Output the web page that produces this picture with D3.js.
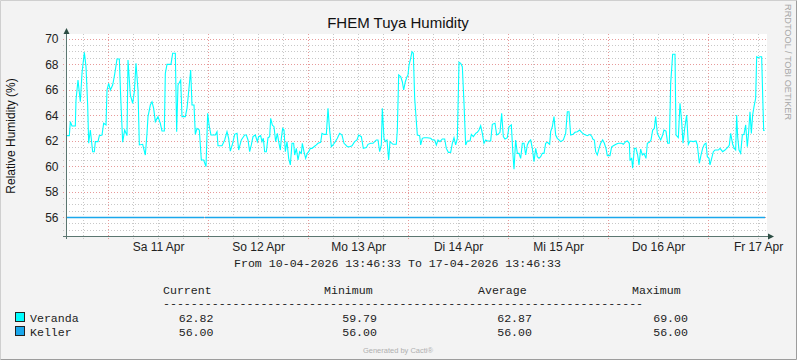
<!DOCTYPE html>
<html>
<head>
<meta charset="utf-8">
<script src="https://cdn.jsdelivr.net/npm/d3@7/dist/d3.min.js"></script>
<style>
  html, body { margin: 0; padding: 0; background: #f3f3f3; }
  svg { display: block; }
</style>
</head>
<body>
<svg id="chart" width="797" height="360"></svg>
<script>
// ---------------- DATA ----------------
const title = "FHEM Tuya Humidity";
const yLabel = "Relative Humidity (%)";
const startUTC = Date.UTC(2026, 3, 10, 13, 46, 33);   // 10-04-2026 13:46:33
const endUTC   = Date.UTC(2026, 3, 17, 13, 46, 33);   // 17-04-2026 13:46:33
const yTicks = [56, 58, 60, 62, 64, 66, 68, 70];
const dayLabels = ["Sa 11 Apr", "So 12 Apr", "Mo 13 Apr", "Di 14 Apr", "Mi 15 Apr", "Do 16 Apr", "Fr 17 Apr"];
const dayLabelDates = ["2026-04-11", "2026-04-12", "2026-04-13", "2026-04-14", "2026-04-15", "2026-04-16", "2026-04-17"];

// Veranda: hours after start, relative humidity (%)
const verandaHours = [
  0.1, 0.92, 1.16, 1.56, 2.36, 2.52, 3.0, 3.56, 3.96, 4.52, 4.92, 5.32, 5.56, 5.96, 6.52, 6.92, 7.16, 7.8, 8.12, 8.76,
  9.16, 9.72, 9.96, 10.36, 10.76, 11.32, 11.8, 12.36, 12.92, 13.24, 13.72, 14.2, 14.76, 15.0, 15.56, 16.12, 16.52, 16.92, 17.4, 17.72,
  18.52, 19.16, 19.56, 19.8, 20.36, 20.76, 21.16, 21.56, 22.2, 22.76, 23.16, 23.72, 23.96, 24.36, 25.32, 25.72, 26.36, 26.68, 27.0, 27.64,
  27.96, 28.76, 29.16, 29.56, 30.04, 30.36, 30.84, 31.16, 31.56, 32.12, 32.6, 33.16, 33.72, 34.12, 34.52, 34.92, 35.96, 36.36, 36.6, 37.56,
  38.2, 38.76, 39.16, 39.56, 40.12, 40.6, 41.16, 41.56, 42.2, 43.0, 43.4, 43.8, 44.2, 44.6, 45.0, 45.56, 46.04, 46.36, 46.84, 47.16,
  47.48, 47.8, 48.2, 48.6, 49.0, 49.24, 49.64, 50.04, 50.44, 50.84, 51.16, 51.56, 51.8, 52.12, 52.44, 52.76, 53.16, 53.56, 53.96, 54.36,
  54.76, 55.0, 55.4, 55.8, 56.2, 56.6, 56.84, 57.24, 57.64, 58.04, 58.36, 58.76, 59.16, 59.64, 60.2, 60.6, 61.24, 61.56, 62.04, 62.6,
  63.0, 63.32, 63.8, 64.2, 64.76, 65.24, 65.8, 66.36, 66.84, 67.24, 67.64, 68.2, 68.76, 69.4, 69.96, 70.36, 71.0, 71.48, 72.2, 72.6,
  73.24, 73.8, 74.2, 74.6, 75.0, 75.4, 75.8, 76.04, 76.44, 76.76, 77.16, 77.56, 77.88, 78.6, 79.4, 79.64, 79.96, 80.44, 80.84, 81.16,
  81.56, 81.96, 82.2, 82.44, 82.84, 83.16, 83.48, 83.8, 84.44, 85.0, 85.24, 85.64, 86.04, 86.84, 87.64, 88.04, 88.6, 89.0, 89.4, 89.88,
  90.44, 91.0, 91.4, 91.88, 92.44, 92.84, 93.24, 93.64, 94.04, 94.44, 94.84, 95.24, 95.64, 96.04, 96.44, 97.08, 97.4, 97.88, 98.44, 98.84,
  99.24, 99.64, 100.04, 100.44, 100.84, 101.24, 102.04, 102.44, 103.08, 103.48, 103.8, 104.28, 104.68, 105.08, 105.48, 106.04, 106.44, 107.0, 107.4, 107.64,
  108.04, 108.44, 108.84, 109.24, 109.64, 110.04, 110.44, 110.84, 111.24, 111.64, 112.04, 112.44, 112.84, 113.24, 113.64, 114.04, 114.44, 114.84, 115.24, 115.64,
  116.2, 116.44, 116.84, 117.24, 117.64, 118.04, 118.44, 118.84, 119.48, 120.04, 120.44, 120.84, 121.24, 121.8, 122.28, 122.84, 123.4, 123.88, 124.44, 125.24,
  125.88, 126.36, 126.52, 126.92, 127.24, 127.64, 128.04, 128.44, 128.92, 129.32, 129.72, 130.04, 130.68, 131.08, 131.48, 132.12, 132.68, 133.48, 133.88, 134.44,
  134.84, 135.32, 135.48, 135.88, 136.12, 136.52, 136.92, 137.32, 137.64, 138.04, 138.44, 138.84, 139.32, 139.64, 140.12, 140.52, 140.92, 141.32, 141.64, 142.04,
  142.44, 142.84, 143.32, 143.64, 144.12, 144.52, 144.92, 145.24, 145.72, 146.28, 146.52, 147.08, 147.48, 147.88, 148.2, 148.6, 149.08, 149.48, 149.88, 150.68,
  151.32, 151.64, 152.12, 152.52, 152.92, 153.32, 153.72, 154.04, 154.44, 154.68, 155.08, 155.48, 155.88, 156.68, 157.08, 157.72, 158.28, 158.68, 159.08, 159.32,
  159.64, 160.12, 160.52, 160.84, 161.08, 161.32, 161.64, 162.04, 162.44, 162.84, 163.24, 163.64, 163.96, 164.28, 164.6, 164.92, 165.24, 165.64, 165.88, 166.28,
  166.68, 167.08, 167.32, 167.56, 167.8
];
const verandaValues = [
  62.42, 62.42, 63.52, 63.18, 63.18, 65.22, 66.78, 65.08, 67.31, 68.95, 67.83, 64.82, 61.82, 62.86, 61.16, 61.16, 61.95, 61.95, 62.42, 62.47,
  63.39, 63.26, 66.0, 66.52, 66.0, 66.39, 67.23, 68.43, 68.43, 65.48, 61.9, 62.86, 62.42, 68.35, 65.61, 64.95, 65.87, 68.09, 66.0, 61.69,
  61.74, 60.9, 62.6, 63.91, 64.82, 65.08, 64.56, 63.52, 63.91, 63.39, 62.78, 62.78, 67.31, 68.01, 68.01, 68.88, 68.88, 62.73, 66.39, 66.78,
  63.91, 63.91, 64.56, 65.87, 67.57, 64.82, 64.82, 62.52, 62.99, 62.86, 60.51, 60.51, 59.99, 64.17, 63.12, 62.47, 62.47, 62.73, 61.63, 61.63,
  62.08, 62.73, 62.21, 61.21, 61.82, 62.52, 62.6, 61.29, 62.08, 62.47, 62.47, 62.08, 61.16, 61.69, 62.34, 62.47, 61.95, 62.34, 62.42, 61.95,
  62.21, 61.16, 61.16, 62.26, 62.34, 63.78, 63.25, 63.12, 61.95, 62.6, 61.95, 61.29, 62.21, 62.99, 62.86, 61.16, 61.95, 60.64, 60.12, 61.82,
  61.82, 60.9, 61.42, 60.51, 61.16, 61.03, 61.82, 61.16, 60.64, 61.03, 61.16, 61.42, 61.42, 61.55, 61.69, 61.82, 61.9, 62.6, 62.52, 62.52,
  64.56, 63.12, 61.55, 61.69, 61.95, 62.21, 62.6, 62.47, 61.82, 61.69, 61.55, 61.55, 61.63, 61.95, 62.08, 62.47, 62.34, 61.42, 61.48, 61.74,
  61.82, 61.82, 61.95, 62.08, 62.08, 61.16, 61.69, 64.56, 62.21, 61.95, 62.08, 60.51, 61.95, 61.74, 61.74, 62.86, 67.18, 67.05, 66.65, 66.0,
  66.65, 67.05, 67.18, 67.96, 68.48, 69.0, 68.88, 65.35, 62.47, 62.42, 61.69, 62.21, 62.26, 62.26, 62.21, 62.08, 62.08, 61.69, 62.08, 61.95,
  62.16, 62.16, 61.42, 61.11, 61.11, 61.82, 62.26, 61.69, 62.21, 68.17, 68.09, 67.83, 64.95, 61.69, 62.0, 62.0, 62.52, 62.34, 62.6, 62.68,
  62.86, 63.2, 62.6, 61.82, 62.08, 62.0, 62.0, 63.31, 63.39, 62.47, 62.52, 62.68, 64.17, 62.34, 62.16, 62.26, 63.12, 63.26, 60.9, 59.79,
  62.08, 61.03, 61.03, 60.64, 61.82, 61.82, 60.9, 61.69, 61.95, 62.08, 61.42, 60.38, 61.42, 60.77, 60.64, 60.77, 61.03, 61.03, 61.82, 61.9,
  61.74, 62.73, 63.12, 63.91, 62.47, 62.21, 62.08, 61.95, 62.08, 62.6, 64.3, 64.3, 62.47, 62.52, 62.68, 62.73, 62.86, 62.68, 62.52, 62.42,
  62.52, 62.34, 62.16, 62.08, 61.16, 60.9, 61.42, 61.82, 62.08, 61.82, 61.42, 60.85, 60.85, 61.55, 61.63, 61.74, 61.82, 61.82, 61.74, 61.95,
  62.0, 61.82, 60.51, 60.64, 59.86, 61.42, 61.42, 60.9, 60.12, 61.37, 60.9, 61.03, 60.64, 61.82, 61.9, 62.08, 62.86, 62.99, 63.91, 62.6,
  62.34, 62.08, 62.47, 62.86, 62.78, 61.82, 61.82, 66.52, 68.8, 68.8, 62.47, 62.26, 64.95, 63.52, 61.82, 62.99, 64.04, 61.74, 62.0, 61.95,
  62.0, 61.69, 60.25, 60.9, 61.42, 61.74, 61.82, 60.77, 60.64, 60.12, 60.64, 61.16, 61.29, 61.29, 61.42, 61.16, 61.29, 61.42, 61.55, 61.69,
  62.6, 61.74, 61.42, 61.29, 64.04, 62.34, 61.29, 61.03, 62.47, 62.52, 63.26, 61.55, 62.73, 64.3, 62.6, 64.04, 64.69, 65.35, 68.61, 68.54,
  68.61, 68.61, 65.61, 62.82, 62.82
];

// Keller: constant, with one short gap
const kellerHours  = [0.1, 33.25, 33.3, 33.45, 167.9];
const kellerValues = [56, 56, null, 56, 56];

// Legend
const seriesNames  = ["Veranda", "Keller"];
const seriesColors = ["#00FFFF", "#1AA7EC"];
const statHeaders  = ["Current", "Minimum", "Average", "Maximum"];
const statValues   = [["62.82", "59.79", "62.87", "69.00"], ["56.00", "56.00", "56.00", "56.00"]];
const fromToText = "From 10-04-2026 13:46:33 To 17-04-2026 13:46:33";

// ---------------- DRAW ----------------
(function draw() {
const svg = d3.select("#chart");
const W = 797, H = 360;
const HOUR = 3600e3;

svg.append("rect").attr("x", 0).attr("y", 0).attr("width", W).attr("height", H).attr("fill", "#f3f3f3");
svg.append("path").attr("d", `M0.5,${H-0.5} V0.5 H${W-0.5}`).attr("fill", "none").attr("stroke", "#cfcfcf");
svg.append("path").attr("d", `M0.5,${H-0.5} H${W-0.5} V0.5`).attr("fill", "none").attr("stroke", "#9c9c9c");

const x = d3.scaleUtc().domain([new Date(startUTC), new Date(endUTC)]).range([65.5, 765.5]);
const y = d3.scaleLinear().domain([56, 70]).range([217.5, 39]);

const pTop = 34, pBottom = 236, pLeft = 66, pRight = 767;
const snap = v => Math.floor(v) + 0.5;

svg.append("rect").attr("x", pLeft).attr("y", pTop).attr("width", pRight - pLeft).attr("height", pBottom - pTop).attr("fill", "#ffffff");

const grid = svg.append("g").attr("shape-rendering", "crispEdges");
const yMinor = d3.range(55, 70.01, 0.5).filter(v => !yTicks.includes(v));
grid.selectAll(".hmin").data(yMinor).enter().append("line")
  .attr("x1", pLeft - 3).attr("x2", pRight)
  .attr("y1", d => snap(y(d))).attr("y2", d => snap(y(d)))
  .attr("stroke", "#c8c8c8").attr("stroke-dasharray", "1,2");
const sixHours = d3.utcHour.every(6).range(new Date(startUTC), new Date(endUTC)).filter(d => d.getUTCHours() !== 0);
grid.selectAll(".vmin").data(sixHours).enter().append("line")
  .attr("x1", d => snap(x(d))).attr("x2", d => snap(x(d)))
  .attr("y1", pTop).attr("y2", pBottom + 3)
  .attr("stroke", "#c8c8c8").attr("stroke-dasharray", "1,2");
grid.selectAll(".hmaj").data(yTicks).enter().append("line")
  .attr("x1", pLeft - 3).attr("x2", pRight)
  .attr("y1", d => snap(y(d))).attr("y2", d => snap(y(d)))
  .attr("stroke", "#e79a9a").attr("stroke-dasharray", "1,2");
const days = d3.utcDay.every(1).range(new Date(startUTC), new Date(endUTC));
grid.selectAll(".vmaj").data(days).enter().append("line")
  .attr("x1", d => snap(x(d))).attr("x2", d => snap(x(d)))
  .attr("y1", pTop).attr("y2", pBottom + 3)
  .attr("stroke", "#e79a9a").attr("stroke-dasharray", "1,2");

const toDate = h => new Date(startUTC + h * HOUR);
const lineGen = d3.line()
  .defined(d => d.v !== null)
  .x(d => x(d.t))
  .y(d => y(d.v));

const keller = kellerHours.map((h, i) => ({ t: toDate(h), v: kellerValues[i] }));
svg.append("path").datum(keller).attr("d", lineGen)
  .attr("fill", "none").attr("stroke", seriesColors[1]).attr("stroke-width", 1.3);

const veranda = verandaHours.map((h, i) => ({ t: toDate(h), v: verandaValues[i] }));
svg.append("path").datum(veranda).attr("d", lineGen)
  .attr("fill", "none").attr("stroke", seriesColors[0]).attr("stroke-width", 1.1)
  .attr("stroke-linejoin", "miter");

const axisCol = "#5b7670";
svg.append("line").attr("x1", pLeft + 0.5).attr("x2", pLeft + 0.5).attr("y1", 32).attr("y2", pBottom + 3)
  .attr("stroke", axisCol);
svg.append("line").attr("x1", pLeft - 3).attr("x2", pRight + 3).attr("y1", pBottom + 0.5).attr("y2", pBottom + 0.5)
  .attr("stroke", axisCol);
svg.append("path").attr("d", `M${pLeft + 0.5},28 L${pLeft + 3.5},34 L${pLeft - 2.5},34 Z`).attr("fill", "#2c4d43");
svg.append("path").attr("d", `M${pRight + 7},${pBottom + 0.5} L${pRight + 1},${pBottom - 2.5} L${pRight + 1},${pBottom + 3.5} Z`).attr("fill", "#2c4d43");

const yAxis = d3.axisLeft(y).tickValues(yTicks).tickSize(0).tickPadding(8).tickFormat(d3.format("d"));
const gy = svg.append("g").attr("transform", `translate(${pLeft + 0.5},0)`).call(yAxis);
gy.select(".domain").remove();
gy.selectAll("text").attr("font-family", "Liberation Sans, Arial, sans-serif").attr("font-size", 12).attr("fill", "#222");

const labelDates = dayLabelDates.map(s => new Date(s + "T12:00:00Z"));
const xAxis = d3.axisBottom(x).tickValues(labelDates).tickSize(0).tickPadding(6)
  .tickFormat((d, i) => dayLabels[i]);
const gx = svg.append("g").attr("transform", `translate(0,${pBottom})`).call(xAxis);
gx.select(".domain").remove();
gx.selectAll("text").attr("font-family", "Liberation Sans, Arial, sans-serif").attr("font-size", 12).attr("fill", "#222");

svg.append("text").attr("x", 398).attr("y", 28).attr("text-anchor", "middle")
  .attr("font-family", "Liberation Sans, Arial, sans-serif").attr("font-size", 15).attr("fill", "#111")
  .text(title);
svg.append("text").attr("transform", "translate(15,136) rotate(-90)").attr("text-anchor", "middle")
  .attr("font-family", "Liberation Sans, Arial, sans-serif").attr("font-size", 12).attr("fill", "#111")
  .text(yLabel);
svg.append("text").attr("transform", "translate(785,4) rotate(90)").attr("text-anchor", "start")
  .attr("font-family", "Liberation Sans, Arial, sans-serif").attr("font-size", 9.2).attr("fill", "#a8a8a8")
  .text("RRDTOOL / TOBI OETIKER");

const mono = "Liberation Mono, DejaVu Sans Mono, monospace";
const fs = 11.6;
svg.append("text").attr("x", 234).attr("y", 267).attr("font-family", mono).attr("font-size", fs).attr("fill", "#222")
  .text(fromToText);
const headX = [163, 324, 478, 632];
statHeaders.forEach((h, i) => {
  svg.append("text").attr("x", headX[i]).attr("y", 294).attr("font-family", mono).attr("font-size", fs).attr("fill", "#222").text(h);
});
svg.append("text").attr("x", 163).attr("y", 307).attr("font-family", mono).attr("font-size", fs).attr("fill", "#222")
  .text("-".repeat(69));
const valRight = [213.5, 377, 532, 688];
const rowY = [322, 336];
seriesNames.forEach((n, r) => {
  svg.append("rect").attr("x", 15.5).attr("y", rowY[r] - 9.5).attr("width", 9).attr("height", 9)
    .attr("fill", seriesColors[r]).attr("stroke", "#222").attr("stroke-width", 1);
  svg.append("text").attr("x", 30).attr("y", rowY[r]).attr("font-family", mono).attr("font-size", fs).attr("fill", "#222").text(n);
  statValues[r].forEach((v, i) => {
    svg.append("text").attr("x", valRight[i]).attr("y", rowY[r]).attr("text-anchor", "end")
      .attr("font-family", mono).attr("font-size", fs).attr("fill", "#222").text(v);
  });
});
svg.append("text").attr("x", 398).attr("y", 353).attr("text-anchor", "middle")
  .attr("font-family", "Liberation Sans, Arial, sans-serif").attr("font-size", 7.5).attr("fill", "#b0b0b0")
  .text("Generated by Cacti®");
})();
</script>
</body>
</html>
